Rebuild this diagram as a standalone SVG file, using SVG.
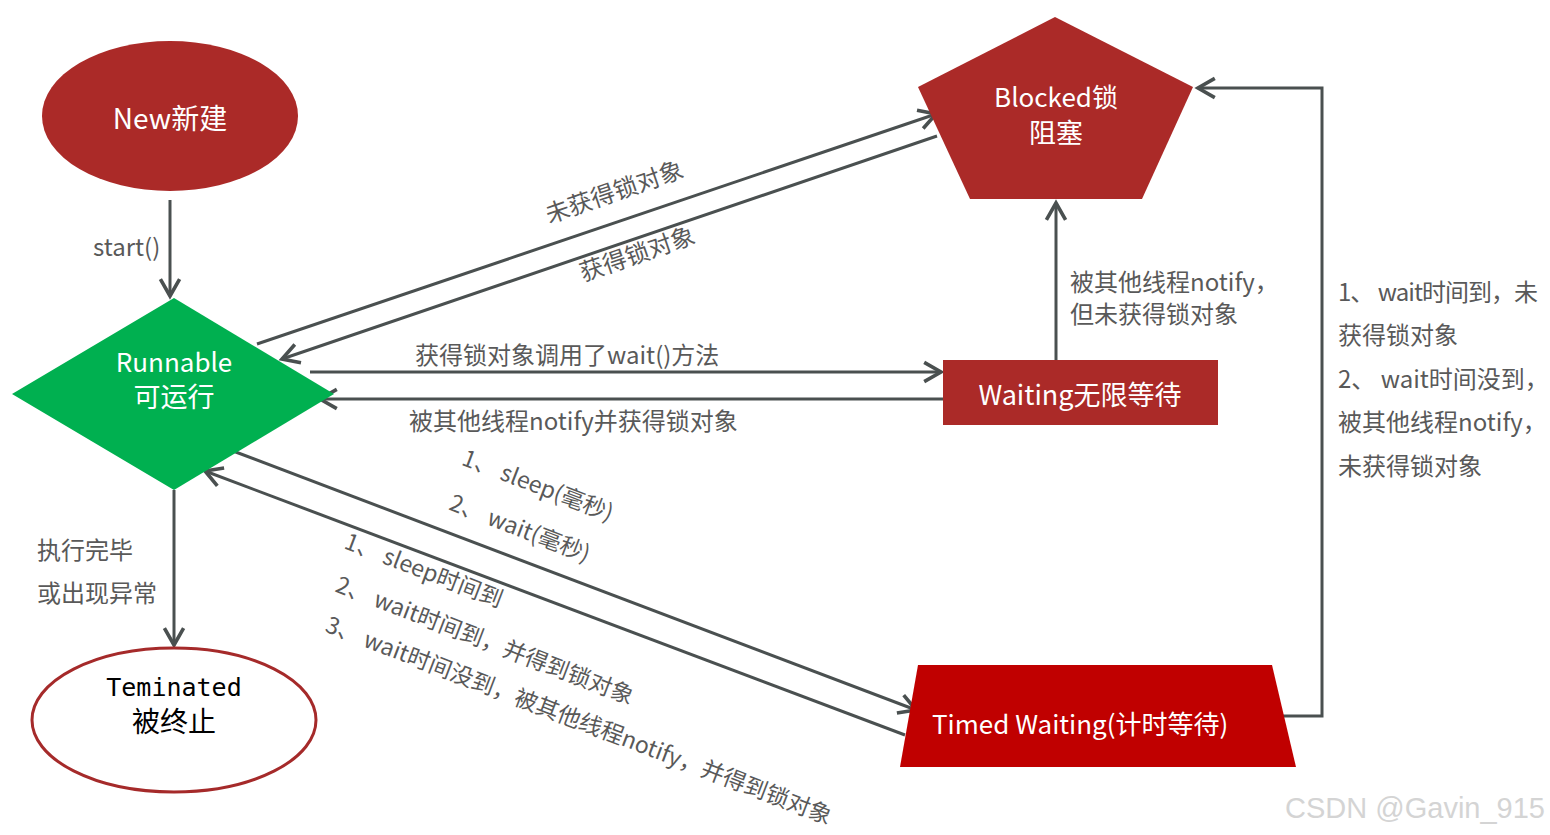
<svg xmlns="http://www.w3.org/2000/svg" width="1550" height="835" viewBox="0 0 1550 835">
<style>
.t{font-family:"Noto Sans CJK SC","Noto Sans",sans-serif;}
.w{fill:#ffffff;}
.lbl{fill:#595959;font-size:24px;font-family:"Noto Sans CJK SC","Noto Sans",sans-serif;}
.rl{font-size:23px;}
.c{fill:none;stroke:#4A5050;stroke-width:3;marker-end:url(#ah);}
</style>
<defs>
<marker id="ah" markerUnits="userSpaceOnUse" markerWidth="24" markerHeight="24" viewBox="-16 -10 20 20" refX="0" refY="0" orient="auto">
<path d="M-14,-8 L0,0 L-14,8" fill="none" stroke="#4A5050" stroke-width="3"/>
</marker>
</defs>
<rect width="1550" height="835" fill="#ffffff"/>

<g id="connectors">
<line class="c" x1="170" y1="200" x2="170" y2="296"/>
<line class="c" x1="257" y1="344" x2="936" y2="114"/>
<line class="c" x1="937" y1="136" x2="282" y2="359"/>
<line class="c" x1="310" y1="372" x2="941" y2="372"/>
<line class="c" x1="943" y1="399" x2="320" y2="399"/>
<line class="c" x1="233" y1="451" x2="916" y2="710"/>
<line class="c" x1="905" y1="735" x2="205" y2="471"/>
<line class="c" x1="174" y1="490" x2="174" y2="645"/>
<line class="c" x1="1056" y1="360" x2="1056" y2="203"/>
<polyline class="c" points="1283,716 1322,716 1322,88 1198,88"/>
</g>

<g id="labels">
<text class="lbl" x="93" y="256" font-size="20">start()</text>
<text class="lbl" transform="translate(617,200) rotate(-19)" text-anchor="middle">未获得锁对象</text>
<text class="lbl" transform="translate(640,262) rotate(-19)" text-anchor="middle">获得锁对象</text>
<text class="lbl" x="415" y="364">获得锁对象调用了wait()方法</text>
<text class="lbl" x="409" y="430">被其他线程notify并获得锁对象</text>
<text class="lbl" x="1070" y="291">被其他线程notify，</text>
<text class="lbl" x="1070" y="323">但未获得锁对象</text>
<text class="lbl" x="1338" y="301" textLength="200" lengthAdjust="spacing">1、 wait时间到，未</text>
<text class="lbl" x="1338" y="344">获得锁对象</text>
<text class="lbl" x="1338" y="388">2、 wait时间没到，</text>
<text class="lbl" x="1338" y="431">被其他线程notify，</text>
<text class="lbl" x="1338" y="475">未获得锁对象</text>
<text class="lbl" x="37" y="559">执行完毕</text>
<text class="lbl" x="37" y="602">或出现异常</text>
<text class="lbl rl" transform="translate(535,493) rotate(21)" text-anchor="middle">1、 sleep(毫秒)</text>
<text class="lbl rl" transform="translate(517,536) rotate(21)" text-anchor="middle">2、 wait(毫秒)</text>
<text class="lbl rl" transform="translate(421,578) rotate(21)" text-anchor="middle">1、 sleep时间到</text>
<text class="lbl rl" transform="translate(482,648) rotate(21)" text-anchor="middle">2、 wait时间到，并得到锁对象</text>
<text class="lbl rl" transform="translate(576,728) rotate(21)" text-anchor="middle">3、 wait时间没到，被其他线程notify，并得到锁对象</text>
</g>

<g id="new">
<ellipse cx="170" cy="116" rx="128" ry="75" fill="#AB2A28"/>
<text class="t w" x="170" y="117" font-size="28" text-anchor="middle" dominant-baseline="central">New新建</text>
</g>

<g id="runnable">
<polygon points="12,394 174,298 334,394 174,490" fill="#00B050"/>
<text class="t w" x="174" y="360" font-size="26" text-anchor="middle" dominant-baseline="central">Runnable</text>
<text class="t w" x="174" y="395" font-size="27" text-anchor="middle" dominant-baseline="central">可运行</text>
</g>

<g id="blocked">
<polygon points="1055,17 1193,87 1142,199 970,199 918,87" fill="#AB2A28"/>
<text class="t w" x="1056" y="95" font-size="26" text-anchor="middle" dominant-baseline="central">Blocked锁</text>
<text class="t w" x="1056" y="131" font-size="27" text-anchor="middle" dominant-baseline="central">阻塞</text>
</g>

<g id="waiting">
<rect x="943" y="360" width="275" height="65" fill="#AB2A28"/>
<text class="t w" x="1080" y="393" font-size="27" text-anchor="middle" dominant-baseline="central">Waiting无限等待</text>
</g>

<g id="timed">
<polygon points="918,665 1272,665 1296,767 900,767" fill="#C00000"/>
<text class="t w" x="932" y="722" font-size="26" dominant-baseline="central">Timed Waiting(计时等待)</text>
</g>

<g id="terminated">
<ellipse cx="174" cy="720" rx="142" ry="72" fill="#ffffff" stroke="#A52A2A" stroke-width="3"/>
<text x="174" y="687" font-size="25" font-family="'DejaVu Sans Mono','Liberation Mono',monospace" fill="#000000" text-anchor="middle" dominant-baseline="central">Teminated</text>
<text class="t" x="174" y="720" font-size="28" fill="#000000" text-anchor="middle" dominant-baseline="central">被终止</text>
</g>

<text x="1545" y="818" font-size="29" font-family="'Liberation Sans',sans-serif" fill="#d4d4d4" text-anchor="end">CSDN @Gavin_915</text>
</svg>
